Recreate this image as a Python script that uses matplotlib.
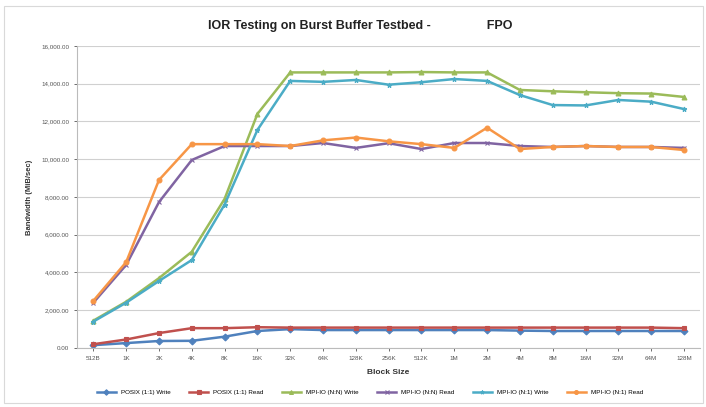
import matplotlib
matplotlib.use("Agg")
import matplotlib.pyplot as plt
from matplotlib.patches import Rectangle
from matplotlib.ticker import FuncFormatter

block_sizes = ["512B", "1K", "2K", "4K", "8K", "16K", "32K", "64K", "128K", "256K",
               "512K", "1M", "2M", "4M", "8M", "16M", "32M", "64M", "128M"]

posix_write = [150, 260, 370, 380, 600, 900, 1000, 950, 950, 950,
               950, 950, 950, 920, 900, 900, 900, 900, 900]
posix_read = [200, 450, 790, 1050, 1050, 1100, 1080, 1080, 1080, 1080,
              1080, 1080, 1080, 1080, 1080, 1080, 1080, 1080, 1050]
mpiio_nn_write = [1450, 2450, 3700, 5100, 7900, 12400, 14600, 14600, 14600, 14600,
                  14620, 14600, 14600, 13670, 13600, 13550, 13500, 13480, 13300]
mpiio_nn_read = [2400, 4400, 7730, 9960, 10700, 10700, 10700, 10860, 10600, 10850,
                 10540, 10860, 10860, 10700, 10650, 10700, 10650, 10650, 10600]
mpiio_n1_write = [1400, 2400, 3550, 4660, 7600, 11550, 14150, 14100, 14200, 13950,
                  14080, 14250, 14150, 13400, 12870, 12850, 13140, 13050, 12660]
mpiio_n1_read = [2500, 4550, 8900, 10800, 10800, 10800, 10700, 11000, 11150, 10950,
                 10800, 10600, 11670, 10540, 10650, 10700, 10650, 10650, 10490]

series = [
    ("POSIX (1:1) Write", posix_write, "#4F81BD", "D"),
    ("POSIX (1:1) Read", posix_read, "#C0504D", "s"),
    ("MPI-IO (N:N) Write", mpiio_nn_write, "#9BBB59", "^"),
    ("MPI-IO (N:N) Read", mpiio_nn_read, "#8064A2", "x"),
    ("MPI-IO (N:1) Write", mpiio_n1_write, "#4BACC6", "*"),
    ("MPI-IO (N:1) Read", mpiio_n1_read, "#F79646", "o"),
]

plt.rcParams["font.family"] = ["Liberation Sans", "DejaVu Sans"]

fig = plt.figure(figsize=(7.06, 4.07), dpi=100)
# light chart-area frame like the spreadsheet export
fig.patches.append(Rectangle((0.006, 0.01), 0.99, 0.975, transform=fig.transFigure,
                             fill=False, edgecolor="#d9d9d9", linewidth=0.8))
ax = fig.add_axes([0.109, 0.145, 0.883, 0.742])

x = list(range(len(block_sizes)))
for name, vals, color, marker in series:
    ax.plot(x, vals, color=color, marker=marker, markersize=3.5, linewidth=1.8,
            label=name, markeredgewidth=0.8)

ax.set_xlim(-0.5, len(block_sizes) - 0.5)
ax.set_ylim(0, 16000)
ax.set_yticks(range(0, 16001, 2000))
ax.yaxis.set_major_formatter(FuncFormatter(lambda v, p: f"{v:,.2f}"))
ax.set_xticks(x)
ax.set_xticklabels(block_sizes)
ax.tick_params(axis="both", labelsize=4.5, colors="#555555", length=2, width=0.6)
ax.grid(axis="y", color="#d0d0d0", linewidth=0.8)
ax.set_axisbelow(True)
for side in ["top", "right"]:
    ax.spines[side].set_visible(False)
for side in ["left", "bottom"]:
    ax.spines[side].set_color("#bbbbbb")
    ax.spines[side].set_linewidth(0.8)

ax.set_xlabel("Block Size", fontsize=6, fontweight="bold", color="#333333", labelpad=6)
ax.set_ylabel("Bandwidth (MiB/sec)", fontsize=5.5, fontweight="bold", color="#333333", labelpad=6)
fig.text(0.51, 0.935, "IOR Testing on Burst Buffer Testbed -                FPO",
         ha="center", va="center", fontsize=9, fontweight="bold", color="#222222")

ax.legend(loc="upper center", bbox_to_anchor=(0.47, -0.12), ncol=6, frameon=False,
          fontsize=4.5, handlelength=3, columnspacing=3, markerscale=0.8)

fig.savefig("out.png", dpi=100)
